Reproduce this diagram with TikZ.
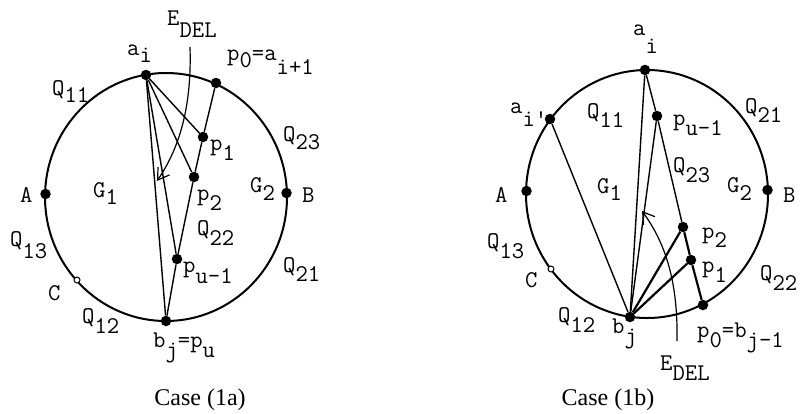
\documentclass[tikz,border=0pt]{standalone}
\usepackage{fontspec}
\newfontfamily\capfont{Liberation Serif}
\usetikzlibrary{arrows.meta}
\newcommand{\lo}[2][9pt]{\raisebox{-#1}{#2}}

\begin{document}
\begin{tikzpicture}[
    x=1pt, y=-1pt,
    rim/.style={line width=2pt},
    edge/.style={line width=1.4pt},
    heavy/.style={line width=2.2pt},
    dot/.style={circle, fill, inner sep=0pt, minimum size=10.5pt},
    cmark/.style={circle, draw, fill=white, inner sep=0pt, minimum size=6pt, line width=1pt},
    lbl/.style={anchor=base west, inner sep=0pt, font=\fontsize{24}{26}\selectfont\ttfamily},
    caption/.style={anchor=base, inner sep=0pt, font=\fontsize{24}{26}\selectfont\capfont},
    delarrow/.style={line width=1.2pt, -{Straight Barb[length=11pt, width=14pt, line width=1.2pt]}}
]
\useasboundingbox (0,0) rectangle (802,413);

%%% Case (1a)

% outer face
\draw[rim] (166,197) ellipse [x radius=121pt, y radius=124pt];

% vertices
\node[dot] (ai) at (146,75) {};
\node[dot] (pz) at (216,83) {};
\node[dot] (pa) at (203,137) {};
\node[dot] (pb) at (194,177) {};
\node[dot] (pu) at (177,259) {};
\node[dot] (bj) at (166,321) {};
\node[dot] (A) at (45.5,194) {};
\node[dot] (B) at (286.5,193) {};
\node[cmark] (C) at (77,280) {};

% edges
\draw[edge] (ai) -- (pa);
\draw[edge] (ai) -- (pb);
\draw[edge] (ai) -- (pu);
\draw[edge] (ai) -- (bj);
\draw[edge] (pz) -- (pa) -- (pb) -- (pu) -- (bj);

% deleted edges
\coordinate (es) at (190,47);
\coordinate (et) at (157,181);
\draw[delarrow] (es) .. controls (192,110) and (178,150) .. (et);

% labels
\node[lbl] (lE) at (167,25) {E\lo[12pt]{DEL}};
\node[lbl] (lai) at (127,55) {a\lo[7pt]{i}};
\node[lbl] (lpz) at (227,60) {p\lo[7pt]{0}=a\lo[14pt]{i+1}};
\node[lbl] (lq11) at (52,95) {Q\lo[7pt]{11}};
\node[lbl] (lq23) at (283,141) {Q\lo[8pt]{23}};
\node[lbl] (lpa) at (210,150) {p\lo[10pt]{1}};
\node[lbl] (lg1) at (93,197) {G\lo[7pt]{1}};
\node[lbl] (lg2) at (250,192) {G\lo[8pt]{2}};
\node[lbl] (lA) at (20,202) {A};
\node[lbl] (lB) at (302,202) {B};
\node[lbl] (lpb) at (197,200) {p\lo[10pt]{2}};
\node[lbl] (lq22) at (197,235) {Q\lo[10pt]{22}};
\node[lbl] (lq13) at (10,246) {Q\lo[12pt]{13}};
\node[lbl] (lpu) at (183,272) {p\lo[11pt]{u-1}};
\node[lbl] (lq21) at (283,272) {Q\lo[9pt]{21}};
\node[lbl] (lC) at (48,300) {C};
\node[lbl] (lq12) at (82,323) {Q\lo[10pt]{12}};
\node[lbl] (lbj) at (153,347) {b\lo[10pt]{j}=p\lo[10pt]{u}};
\node[caption] (cap1) at (200,405) {Case (1a)};

%%% Case (1b)

% outer face
\draw[rim] (647,194) ellipse [x radius=121pt, y radius=124pt];

% vertices
\node[dot] (ai2) at (645,70) {};
\node[dot] (aip) at (550,119) {};
\node[dot] (pu2) at (657,116) {};
\node[dot] (pb2) at (683,227) {};
\node[dot] (pa2) at (691,260) {};
\node[dot] (pz2) at (703,305) {};
\node[dot] (bj2) at (630,317) {};
\node[dot] (A2) at (526.5,191) {};
\node[dot] (B2) at (767.5,190) {};
\node[cmark] (C2) at (551,269) {};

% edges
\draw[edge] (ai2) -- (bj2);
\draw[edge] (ai2) -- (pu2);
\draw[edge] (pu2) -- (bj2);
\draw[edge] (pu2) -- (pb2);
\draw[edge] (aip) -- (bj2);
\draw[heavy] (bj2) -- (pb2);
\draw[heavy] (bj2) -- (pa2);
\draw[heavy] (pb2) -- (pa2) -- (pz2);

% deleted edges
\coordinate (es2) at (677,341);
\coordinate (et2) at (642,211);
\draw[delarrow] (es2) .. controls (678,285) and (667,245) .. (et2);

% labels
\node[lbl] (lai2) at (633,35) {a\lo[18pt]{i}};
\node[lbl] (laip) at (510,113) {a\lo[13pt]{i'}};
\node[lbl] (lq112) at (587,118) {Q\lo[9pt]{11}};
\node[lbl] (lpu2) at (673,125) {p\lo[10pt]{u-1}};
\node[lbl] (lq212) at (745,113) {Q\lo[9pt]{21}};
\node[lbl] (lq232) at (673,172) {Q\lo[10pt]{23}};
\node[lbl] (lg12) at (597,193) {G\lo[7pt]{1}};
\node[lbl] (lg22) at (727,192) {G\lo[8pt]{2}};
\node[lbl] (lA2) at (495,202) {A};
\node[lbl] (lB2) at (783,202) {B};
\node[lbl] (lq132) at (487,248) {Q\lo[10pt]{13}};
\node[lbl] (lC2) at (525,287) {C};
\node[lbl] (lpb2) at (702,238) {p\lo[9pt]{2}};
\node[lbl] (lpa2) at (702,272) {p\lo[10pt]{1}};
\node[lbl] (lq222) at (760,280) {Q\lo[10pt]{22}};
\node[lbl] (lq122) at (558,322) {Q\lo[10pt]{12}};
\node[lbl] (lbj2) at (612,333) {b\lo[10pt]{j}};
\node[lbl] (lpz2) at (697,337) {p\lo[10pt]{0}=b\lo[10pt]{j-1}};
\node[lbl] (lE2) at (660,370) {E\lo[10pt]{DEL}};
\node[caption] (cap2) at (608,405) {Case (1b)};

\end{tikzpicture}
\end{document}
